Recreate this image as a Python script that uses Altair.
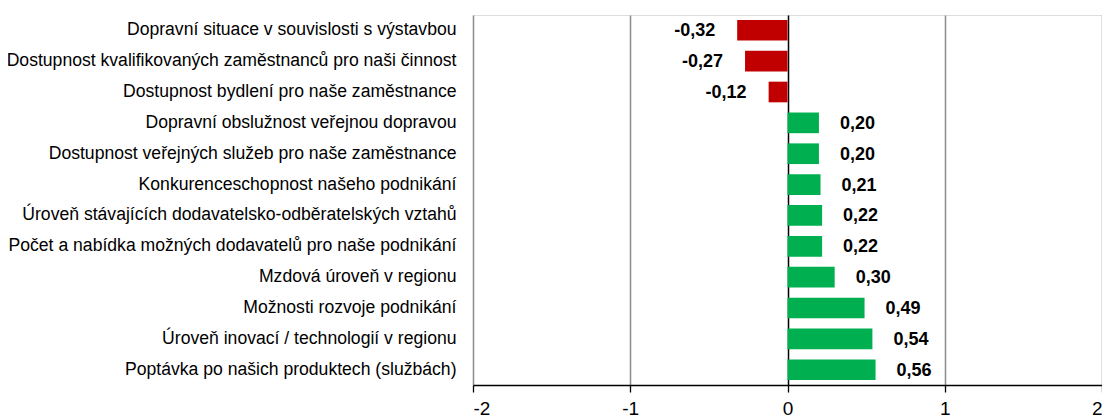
import altair as alt
import pandas as pd

categories = [
    "Dopravní situace v souvislosti s výstavbou",
    "Dostupnost kvalifikovaných zaměstnanců pro naši činnost",
    "Dostupnost bydlení pro naše zaměstnance",
    "Dopravní obslužnost veřejnou dopravou",
    "Dostupnost veřejných služeb pro naše zaměstnance",
    "Konkurenceschopnost našeho podnikání",
    "Úroveň stávajících dodavatelsko-odběratelských vztahů",
    "Počet a nabídka možných dodavatelů pro naše podnikání",
    "Mzdová úroveň v regionu",
    "Možnosti rozvoje podnikání",
    "Úroveň inovací / technologií v regionu",
    "Poptávka po našich produktech (službách)",
]
values = [-0.32, -0.27, -0.12, 0.20, 0.20, 0.21, 0.22, 0.22, 0.30, 0.49, 0.54, 0.56]
x_ticks = [-2, -1, 0, 1, 2]

df = pd.DataFrame({"cat": categories, "v": values})

FONT = "Liberation Sans, Arial, sans-serif"

x_enc = alt.X(
    "v:Q",
    scale=alt.Scale(domain=[-2, 2], nice=False, zero=False),
    axis=alt.Axis(
        values=x_ticks,
        labelExpr="toString(datum.value)",
        title=None,
        grid=True,
        gridColor={"condition": {"test": "datum.value === 0", "value": "#000000"}, "value": "#8c8c8c"},
        gridWidth=1.5,
        domainColor="#000000",
        domainWidth=1.3,
        tickColor="#000000",
        tickWidth=1.3,
        tickSize=7,
        labelFont=FONT,
        labelFontSize=19,
        labelColor="#000000",
        labelPadding=7,
    ),
)
y_enc = alt.Y(
    "cat:N",
    sort=categories,
    scale=alt.Scale(paddingInner=0.33, paddingOuter=0.16),
    axis=alt.Axis(
        title=None,
        domain=False,
        ticks=False,
        grid=False,
        labelFont=FONT,
        labelFontSize=17.6,
        labelColor="#000000",
        labelPadding=17,
        labelLimit=600,
    ),
)

bars = alt.Chart(df).mark_bar().encode(
    x=x_enc,
    y=y_enc,
    color=alt.condition("datum.v < 0", alt.value("#C00000"), alt.value("#00B050")),
)

lbl = alt.Chart(df).transform_calculate(
    t="(datum.v < 0 ? '-' : '') + replace(format(abs(datum.v), '.2f'), '.', ',')"
)
style = dict(baseline="middle", dy=1, fontWeight="bold", font=FONT, fontSize=18, color="#000000")
neg = lbl.transform_filter("datum.v < 0").mark_text(align="right", dx=-22, **style).encode(
    x="v:Q", y=alt.Y("cat:N", sort=categories), text="t:N"
)
pos = lbl.transform_filter("datum.v >= 0").mark_text(align="left", dx=21, **style).encode(
    x="v:Q", y=alt.Y("cat:N", sort=categories), text="t:N"
)

chart = alt.layer(bars, neg, pos).properties(
    width=629,
    height=370,
    autosize=alt.AutoSizeParams(type="none"),
    padding={"left": 465, "top": 7, "right": 0, "bottom": 40},
).configure_view(stroke=None).configure(background="white")

chart.save("out.html", embed_options={"renderer": "svg", "actions": False})
